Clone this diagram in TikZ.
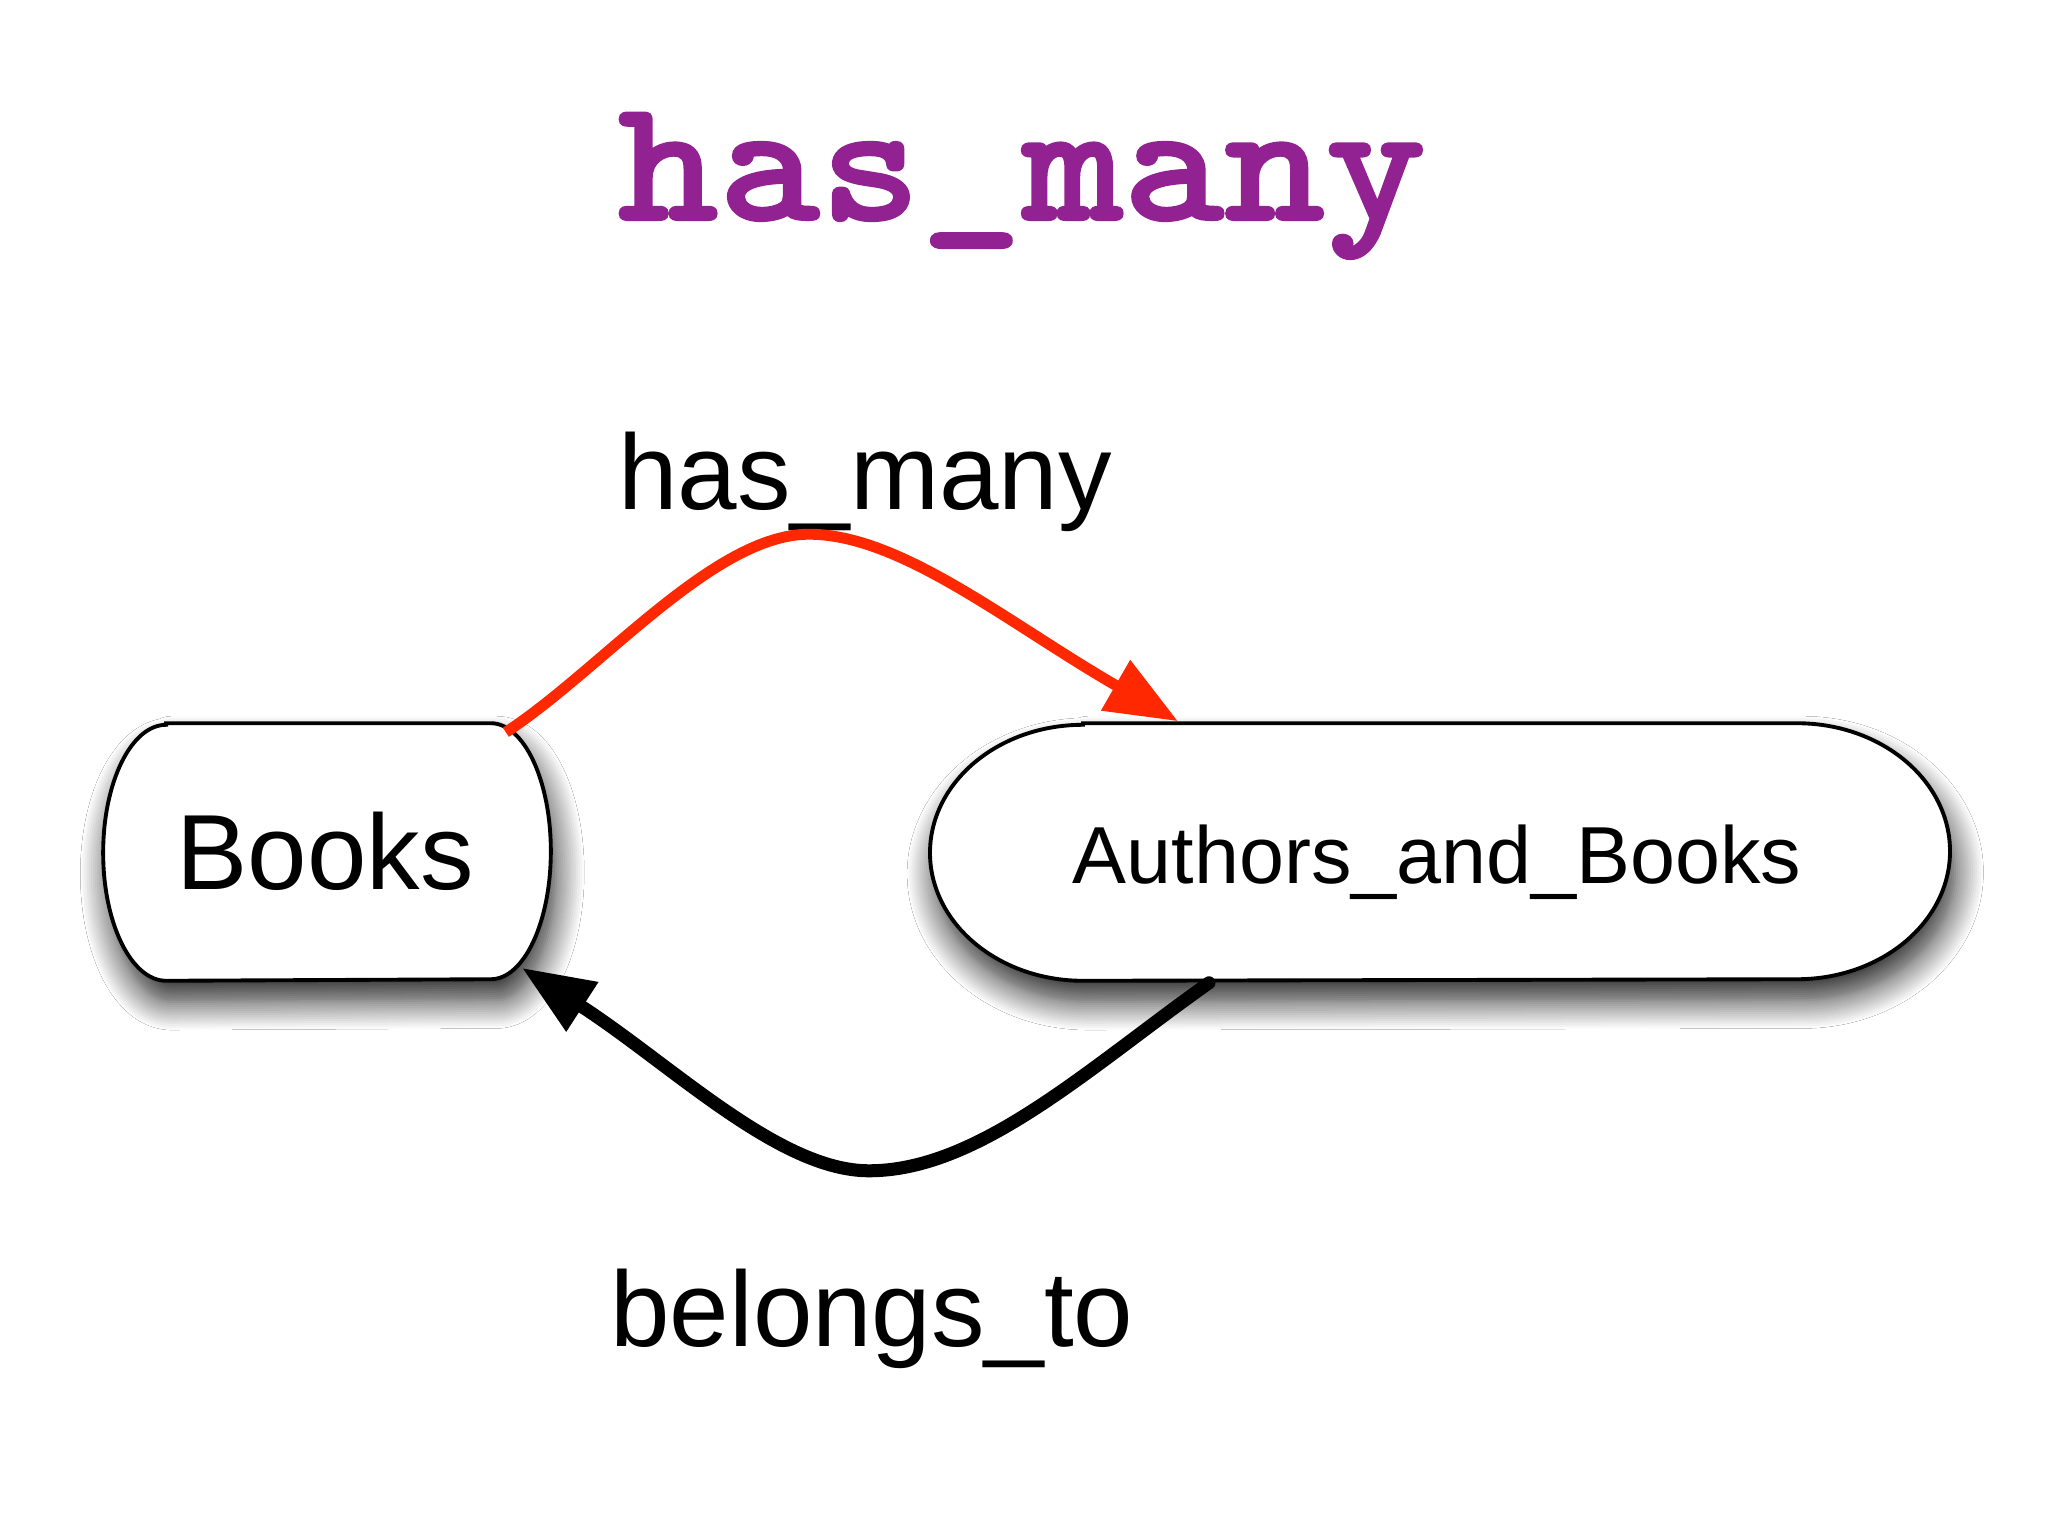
\documentclass[tikz,border=0pt]{standalone}
\usepackage{fontspec}
\setmainfont{Liberation Sans}
\newfontfamily\titlefnt{lmmonolt10-bold.otf}[FakeBold=1.2]
\usetikzlibrary{arrows.meta,calc,shadows.blur}
\definecolor{titlepurple}{RGB}{146,34,146}
\definecolor{arrowred}{RGB}{255,40,0}
\begin{document}
\begin{tikzpicture}[x=0.01cm,y=0.01cm,
  boxnode/.style={draw=none, inner sep=0, minimum height=2.56cm},
  boxline/.style={draw=black, line width=1.1pt, fill=white,
    blur shadow={shadow xshift=1.5pt, shadow yshift=-6pt, shadow blur radius=8pt, shadow blur steps=14, shadow opacity=85}},
  biglbl/.style={inner sep=0, anchor=base, font=\fontsize{30.4}{36}\selectfont},
  smalllbl/.style={inner sep=0, anchor=base, font=\fontsize{23}{28}\selectfont},
  redarrow/.style={draw=arrowred, line width=3.1pt, -{Triangle[length=20.5pt,width=15.8pt]}},
  blackarrow/.style={draw=black, line width=3.7pt, line cap=round, -{Triangle[length=20.5pt,width=15.8pt]}}
]
\useasboundingbox (0,0) rectangle (2048,-1536);
\fill[white] (0,0) rectangle (2048,-1536);

% title
\node[anchor=base, inner sep=0, text=titlepurple, font=\titlefnt\fontsize{50}{60}\selectfont] (title) at (1022,-220) {\scalebox{1.095}[1]{has\_many}};

% boxes
\node[boxnode, minimum width=4.46cm] (books) at (327,-852) {};
\node[boxnode, minimum width=10.18cm] (ab) at (1440,-852) {};

\path[boxline] ($(books.north west)+(63,0)$) -- ($(books.north east)+(-60,0)$)
  arc[start angle=90, end angle=-90, x radius=60, y radius=128]
  -- ($(books.south west)+(63,0)$)
  arc[start angle=270, end angle=90, x radius=63, y radius=128] -- cycle;
\path[boxline] ($(ab.north west)+(153,0)$) -- ($(ab.north east)+(-153,0)$)
  arc[start angle=90, end angle=-90, x radius=153, y radius=128]
  -- ($(ab.south west)+(153,0)$)
  arc[start angle=270, end angle=90, x radius=153, y radius=128] -- cycle;

% box texts
\node[biglbl] (bookstext) at (325,-889) {Books};
\node[smalllbl] (abtext) at (1437,-883) {Authors\_and\_Books};

% connector labels
\node[biglbl] (hmlabel) at (865,-509) {has\_many};
\node[biglbl] (btlabel) at (872,-1346) {belongs\_to};

% connector end points
\coordinate (hmstart) at ($(books.north east)+(-45,-9)$);
\coordinate (hmend) at ($(ab.north west)+(248,2)$);
\coordinate (btstart) at ($(ab.south west)+(279,-2)$);
\coordinate (btend) at ($(books.south east)+(-29,13)$);

% connectors
\draw[redarrow] (hmstart) .. controls +(95,62) and +(-95,0) .. ++(303,198)
  .. controls +(92,0) and +(-170,98) .. (hmend);
\draw[blackarrow] (btstart) .. controls +(-120,-85) and +(110,0) .. ++(-340,-188)
  .. controls +(-90,0) and +(150,-97) .. (btend);
\end{tikzpicture}
\end{document}
